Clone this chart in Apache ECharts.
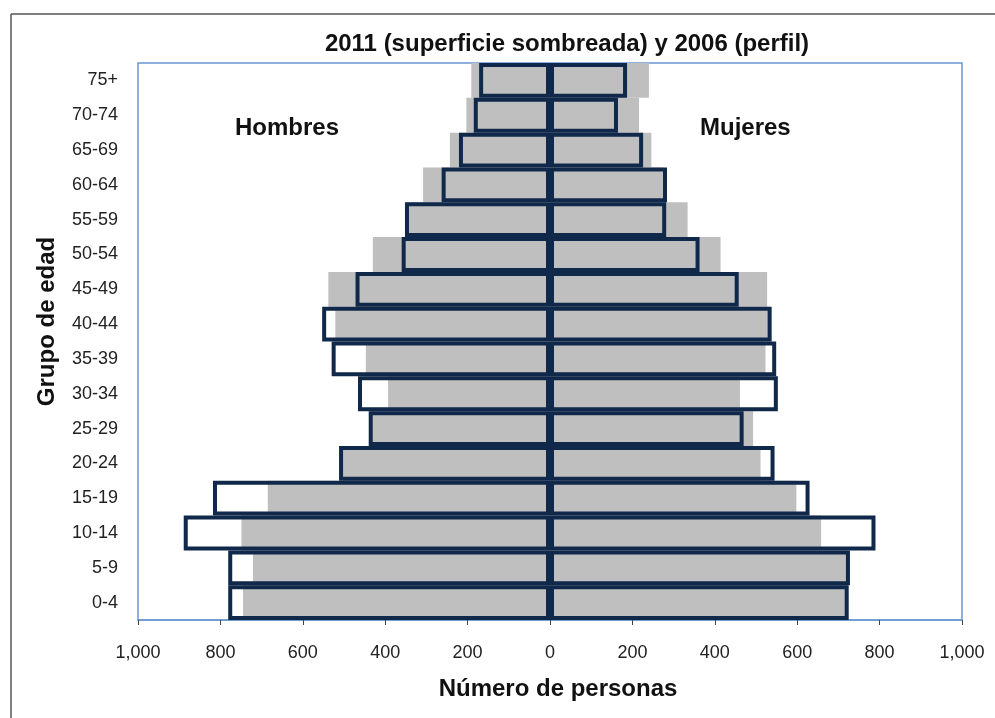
<!DOCTYPE html>
<html>
<head>
<meta charset="utf-8">
<script src="https://cdn.jsdelivr.net/npm/echarts@6/dist/echarts.min.js"></script>
<style>
    html, body { margin: 0; padding: 0; background: #fff; }
    #chart { width: 995px; height: 718px; }
</style>
</head>
<body>
<div id="chart"></div>
<script>
    // grupos de edad, de abajo hacia arriba
    var grupos = ['0-4', '5-9', '10-14', '15-19', '20-24', '25-29', '30-34', '35-39',
                  '40-44', '45-49', '50-54', '55-59', '60-64', '65-69', '70-74', '75+'];

    // 2011 (superficie sombreada)
    var hombres2011 = [745, 721, 749, 685, 504, 435, 393, 447, 521, 538, 430, 345, 308, 243, 203, 191];
    var mujeres2011 = [721, 721, 658, 598, 511, 493, 461, 523, 534, 527, 414, 334, 275, 246, 216, 240];

    // 2006 (perfil)
    var hombres2006 = [781, 781, 889, 818, 512, 440, 466, 530, 553, 472, 360, 352, 263, 221, 185, 172];
    var mujeres2006 = [725, 728, 790, 630, 545, 470, 553, 549, 538, 458, 363, 282, 284, 226, 165, 187];

    var fuente = '"Liberation Sans Narrow", "Arial Narrow", "Liberation Sans", Arial, sans-serif';
    var fuenteNegrita = '"Liberation Sans", Arial, sans-serif';
    var gris = '#bfbfbf';
    var azulOscuro = '#10284a';

    function neg(arr) {
        return arr.map(function (v) { return -v; });
    }

    var chart = echarts.init(document.getElementById('chart'));
    chart.setOption({
        animation: false,
        backgroundColor: '#fff',
        title: {
            text: '2011 (superficie sombreada) y 2006 (perfil)',
            left: 562,
            top: 27,
            textAlign: 'center',
            textStyle: { fontFamily: fuenteNegrita, fontWeight: 'bold', fontSize: 24, color: '#111' }
        },
        grid: {
            left: 138,
            right: 33,
            top: 63,
            bottom: 98,
            show: true,
            borderColor: '#6a98cf',
            borderWidth: 1.5,
            backgroundColor: '#fff'
        },
        xAxis: {
            type: 'value',
            min: -1000,
            max: 1000,
            interval: 200,
            name: 'Número de personas',
            nameLocation: 'middle',
            nameGap: 57,
            nameTextStyle: {
                fontFamily: fuenteNegrita, fontWeight: 'bold', fontSize: 24, color: '#111',
                padding: [0, 0, 0, 16]
            },
            axisLine: { show: true, lineStyle: { color: '#6a98cf', width: 1.5 } },
            axisTick: { show: true, length: 5, lineStyle: { color: '#444' } },
            splitLine: { show: false },
            axisLabel: {
                margin: 24,
                fontFamily: fuente,
                fontSize: 18,
                color: '#222',
                formatter: function (v) {
                    return Math.abs(v).toLocaleString('en-US');
                }
            }
        },
        yAxis: {
            type: 'category',
            data: grupos,
            name: 'Grupo de edad',
            nameLocation: 'middle',
            nameGap: 79,
            nameRotate: 90,
            nameTextStyle: {
                fontFamily: fuenteNegrita, fontWeight: 'bold', fontSize: 24, color: '#111',
                padding: [0, 0, 0, 40]
            },
            axisLine: { show: false },
            axisTick: { show: false },
            axisLabel: { margin: 20, fontFamily: fuente, fontSize: 18, color: '#222' }
        },
        graphic: [
            { type: 'line', shape: { x1: 11, y1: 14, x2: 995, y2: 14 }, style: { stroke: '#555', lineWidth: 1.5 } },
            { type: 'line', shape: { x1: 11, y1: 14, x2: 11, y2: 718 }, style: { stroke: '#555', lineWidth: 1.5 } },
            {
                type: 'text', left: 235, top: 116,
                style: { text: 'Hombres', font: 'bold 24px ' + fuenteNegrita, fill: '#111' }
            },
            {
                type: 'text', left: 700, top: 116,
                style: { text: 'Mujeres', font: 'bold 24px ' + fuenteNegrita, fill: '#111' }
            }
        ],
        series: [
            {
                name: 'Hombres 2011', type: 'bar', data: neg(hombres2011),
                barGap: '-100%', barCategoryGap: '0%',
                itemStyle: { color: gris }
            },
            {
                name: 'Mujeres 2011', type: 'bar', data: mujeres2011,
                barGap: '-100%', barCategoryGap: '0%',
                itemStyle: { color: gris }
            },
            {
                name: 'Hombres 2006', type: 'bar', data: neg(hombres2006),
                barGap: '-100%', barCategoryGap: '0%',
                itemStyle: { color: 'rgba(0,0,0,0)', borderColor: azulOscuro, borderWidth: 4 }
            },
            {
                name: 'Mujeres 2006', type: 'bar', data: mujeres2006,
                barGap: '-100%', barCategoryGap: '0%',
                itemStyle: { color: 'rgba(0,0,0,0)', borderColor: azulOscuro, borderWidth: 4 }
            }
        ]
    });
</script>
</body>
</html>
